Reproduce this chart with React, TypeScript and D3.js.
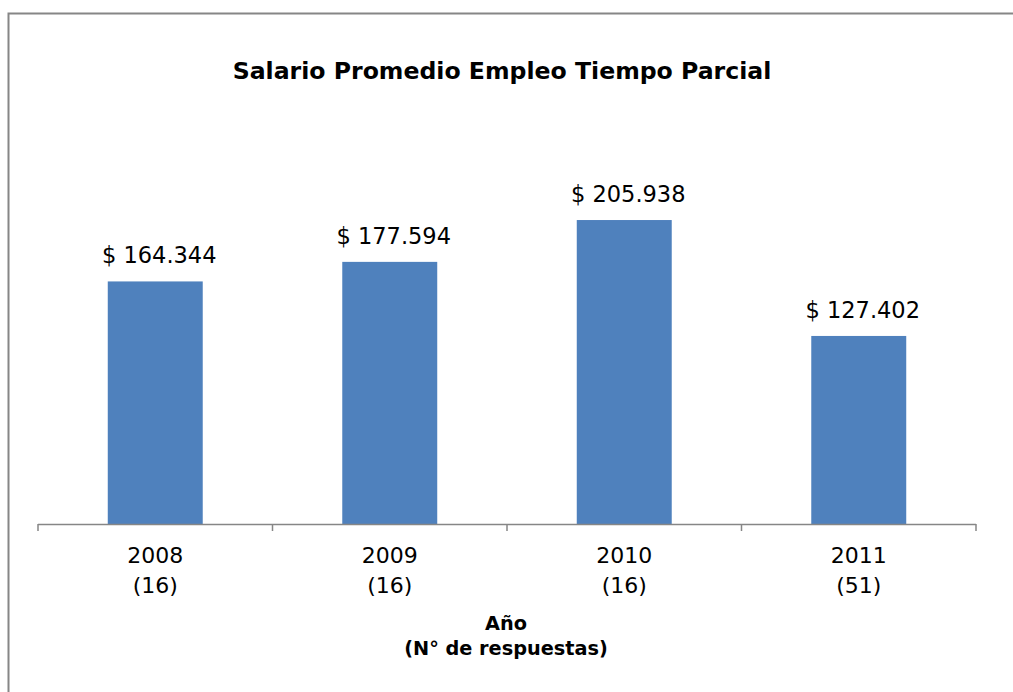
import React from "react";
import * as d3 from "d3";

const years = ["2008", "2009", "2010", "2011"];
const responses = ["(16)", "(16)", "(16)", "(51)"];
const salaries = [164344, 177594, 205938, 127402];
const valueLabels = ["$ 164.344", "$ 177.594", "$ 205.938", "$ 127.402"];

const W = 1013;
const H = 692;
const FONT = "'Century Gothic', 'DejaVu Sans', sans-serif";

export default function App() {
  const x0 = 38, x1 = 976, y0 = 524;
  const x = d3.scaleBand<string>().domain(years).range([x0, x1]).padding(0);
  const y = d3.scaleLinear().domain([0, 250000]).range([y0, 155]);
  const bw = x.bandwidth() * 0.405;
  const ticks = [...years.map((c) => x(c)!), x1];
  return (
    <svg width={W} height={H} style={{ position: "absolute", left: 0, top: 0 }}>
      <rect x={0} y={0} width={W} height={H} fill="#fff" />
      <rect x={8.5} y={13.5} width={W + 10} height={H + 10} fill="none" stroke="#868686" strokeWidth={2} />
      <text x={502} y={79} textAnchor="middle" fontFamily={FONT} fontWeight="bold" fontSize={23.6} fill="#000">
        Salario Promedio Empleo Tiempo Parcial
      </text>
      {years.map((c, i) => {
        const cx = x(c)! + x.bandwidth() / 2;
        return (
          <g key={c}>
            <rect x={cx - bw / 2} y={y(salaries[i])} width={bw} height={y0 - y(salaries[i])} fill="#4F81BD" />
            <text x={cx + 4} y={y(salaries[i]) - 18} textAnchor="middle" fontFamily={FONT} fontSize={22.5} fill="#000">
              {valueLabels[i]}
            </text>
            <text x={cx} y={563} textAnchor="middle" fontFamily={FONT} fontSize={22} fill="#000">{c}</text>
            <text x={cx} y={593} textAnchor="middle" fontFamily={FONT} fontSize={22} fill="#000">{responses[i]}</text>
          </g>
        );
      })}
      <line x1={x0} x2={x1} y1={y0 + 0.5} y2={y0 + 0.5} stroke="#868686" strokeWidth={1.5} />
      {ticks.map((t, i) => (
        <line key={i} x1={t} x2={t} y1={y0} y2={y0 + 7} stroke="#868686" strokeWidth={1.5} />
      ))}
      <text x={506} y={630} textAnchor="middle" fontFamily={FONT} fontWeight="bold" fontSize={19.3} fill="#000">Año</text>
      <text x={506} y={655} textAnchor="middle" fontFamily={FONT} fontWeight="bold" fontSize={19.3} fill="#000">(N° de respuestas)</text>
    </svg>
  );
}
